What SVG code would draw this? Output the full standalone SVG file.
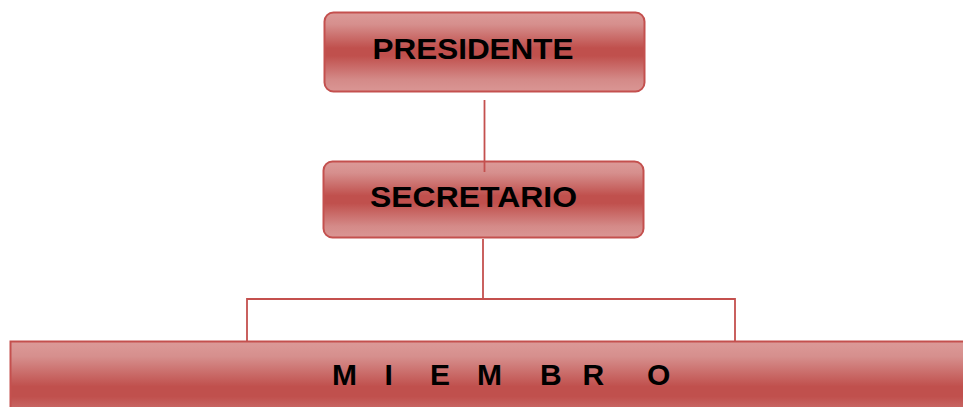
<svg xmlns="http://www.w3.org/2000/svg" width="963" height="407" viewBox="0 0 963 407">
<defs>
<linearGradient id="g" x1="0" y1="0" x2="0" y2="1">
<stop offset="0" stop-color="#dc9a98"/>
<stop offset="0.15" stop-color="#d68f8d"/>
<stop offset="0.45" stop-color="#c0504d"/>
<stop offset="0.55" stop-color="#c0504d"/>
<stop offset="0.85" stop-color="#d48a88"/>
<stop offset="1" stop-color="#da9694"/>
</linearGradient>
<style>
.box{fill:url(#g);stroke:#c4504e;stroke-width:2}
.lbl{font-family:"Liberation Sans",Arial,sans-serif;font-weight:bold;fill:#000}
.con{fill:none;stroke:#c4504e;stroke-width:1.8}
</style>
</defs>
<rect width="963" height="407" fill="#fff"/>
<g id="connectors">
<line class="con" x1="484.5" y1="100" x2="484.5" y2="172"/>
<line class="con" x1="483" y1="239" x2="483" y2="299"/>
<polyline class="con" points="247,341 247,299 735,299 735,341"/>
</g>
<g id="presidente">
<rect class="box" x="324.5" y="12.5" width="320" height="79" rx="9"/>
<text class="lbl" x="372.5" y="58.5" font-size="30" textLength="201" lengthAdjust="spacingAndGlyphs">PRESIDENTE</text>
</g>
<g id="secretario">
<rect class="box" x="323.5" y="161.5" width="320" height="76" rx="9"/>
<text class="lbl" x="370" y="207" font-size="30" textLength="207" lengthAdjust="spacingAndGlyphs">SECRETARIO</text>
</g>
<line class="con" x1="484.5" y1="161" x2="484.5" y2="172"/>
<g id="miembro">
<rect class="box" x="10.5" y="341.5" width="1000" height="100"/>
<text class="lbl" y="384.5" font-size="30"><tspan x="332">M</tspan><tspan x="384.5">I</tspan><tspan x="430">E</tspan><tspan x="477">M</tspan><tspan x="540">B</tspan><tspan x="582.5">R</tspan><tspan x="647">O</tspan></text>
</g>
</svg>
